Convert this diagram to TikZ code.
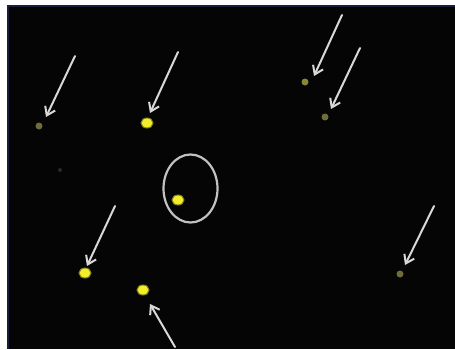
\documentclass[tikz,border=0pt]{standalone}
\usetikzlibrary{arrows.meta,shapes.geometric}
\definecolor{bgblack}{HTML}{050505}
\definecolor{frame}{HTML}{1A1E3C}
\definecolor{bright}{HTML}{F2EE2A}
\definecolor{glow}{HTML}{8A8420}
\definecolor{dim}{HTML}{6E6C3A}
\definecolor{faint}{HTML}{2A2A1E}
\definecolor{arr}{HTML}{D8D8D8}
\tikzset{
  brightdot/.style={ellipse, inner sep=0pt, minimum width=12pt, minimum height=10pt, fill=bright,
     draw=glow, line width=1pt},
  dimdot/.style={circle, inner sep=0pt, minimum size=7pt, fill=dim},
  faintdot/.style={circle, inner sep=0pt, minimum size=4pt, fill=faint},
  pointer/.style={draw=arr, line width=2pt, line cap=round,
     -{Straight Barb[length=8pt, width=11pt, line width=2pt]}},
  ring/.style={draw=arr!90!black, line width=2.2pt}
}
\begin{document}
\begin{tikzpicture}[x=1pt, y=-1pt]
\useasboundingbox (0,0) rectangle (455,349);
\fill[white] (0,0) rectangle (455,349);
\fill[frame] (7,5) rectangle (455,349);
\fill[bgblack] (9,7) rectangle (455,349);
% dots
\node[dimdot] (d1) at (39,126) {};
\node[brightdot] (d2) at (147,123) {};
\node[dimdot, fill=dim!80!bright] (d3) at (305,82) {};
\node[dimdot] (d4) at (325,117) {};
\node[brightdot] (d5) at (178,200) {};
\node[brightdot] (d6) at (85,273) {};
\node[brightdot] (d7) at (143,290) {};
\node[dimdot] (d8) at (400,274) {};
\node[faintdot] (d9) at (60,170) {};
% ring
\draw[ring] (190.5,188.5) ellipse [x radius=27, y radius=34];
% arrows
\coordinate (t1) at (75,56);   \coordinate (h1) at (46,117);
\coordinate (t2) at (178,52);  \coordinate (h2) at (150,113);
\coordinate (t3) at (342,15);  \coordinate (h3) at (314,76);
\coordinate (t4) at (360,48);  \coordinate (h4) at (331,109);
\coordinate (t5) at (115,206); \coordinate (h5) at (87,266);
\coordinate (t6) at (175,347); \coordinate (h6) at (150,304);
\coordinate (t7) at (434,206); \coordinate (h7) at (405,265);
\foreach \i in {1,...,7} {\draw[pointer] (t\i) -- (h\i);}
\end{tikzpicture}
\end{document}
